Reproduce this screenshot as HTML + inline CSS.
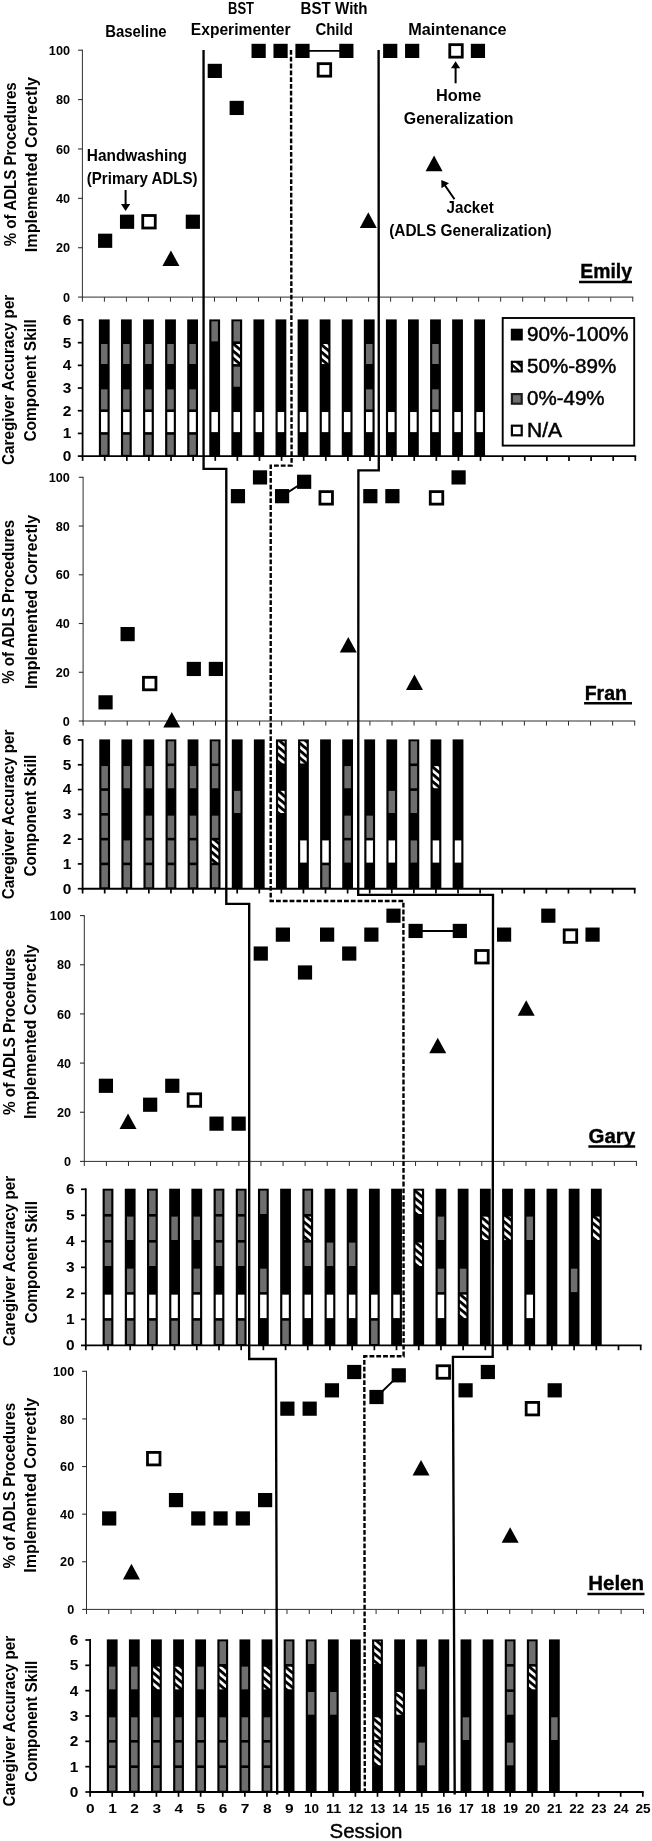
<!DOCTYPE html>
<html><head><meta charset="utf-8"><title>Figure</title>
<style>html,body{margin:0;padding:0;background:#fff}svg{display:block}text{font-family:"Liberation Sans", sans-serif;fill:#000}</style>
</head><body>
<svg width="652" height="1841" viewBox="0 0 652 1841">
<defs>
<pattern id="hatch" width="5.6" height="5.6" patternUnits="userSpaceOnUse" patternTransform="rotate(40)"><rect width="5.6" height="5.6" fill="#fff"/><rect width="5.6" height="2.9" fill="#000"/></pattern>
<pattern id="hatch2" width="5.2" height="5.2" patternUnits="userSpaceOnUse" patternTransform="rotate(42)"><rect width="5.2" height="5.2" fill="#fff"/><rect width="5.2" height="2.4" fill="#000"/></pattern>
<filter id="soft" x="0" y="0" width="100%" height="100%" filterUnits="userSpaceOnUse"><feGaussianBlur stdDeviation="0.45"/></filter>
</defs>
<g filter="url(#soft)">
<rect width="652" height="1841" fill="#fff"/>
<rect x="98.88" y="319.40" width="10.80" height="136.70" fill="#000"/>
<rect x="101.03" y="434.72" width="6.50" height="20.08" fill="#6e6e6e"/>
<rect x="101.03" y="412.03" width="6.50" height="20.08" fill="#fff"/>
<rect x="101.03" y="389.35" width="6.50" height="20.08" fill="#6e6e6e"/>
<rect x="101.03" y="343.98" width="6.50" height="20.08" fill="#6e6e6e"/>
<rect x="120.96" y="319.40" width="10.80" height="136.70" fill="#000"/>
<rect x="123.11" y="434.72" width="6.50" height="20.08" fill="#6e6e6e"/>
<rect x="123.11" y="412.03" width="6.50" height="20.08" fill="#fff"/>
<rect x="123.11" y="389.35" width="6.50" height="20.08" fill="#6e6e6e"/>
<rect x="123.11" y="343.98" width="6.50" height="20.08" fill="#6e6e6e"/>
<rect x="143.04" y="319.40" width="10.80" height="136.70" fill="#000"/>
<rect x="145.19" y="434.72" width="6.50" height="20.08" fill="#6e6e6e"/>
<rect x="145.19" y="412.03" width="6.50" height="20.08" fill="#fff"/>
<rect x="145.19" y="389.35" width="6.50" height="20.08" fill="#6e6e6e"/>
<rect x="145.19" y="343.98" width="6.50" height="20.08" fill="#6e6e6e"/>
<rect x="165.12" y="319.40" width="10.80" height="136.70" fill="#000"/>
<rect x="167.27" y="434.72" width="6.50" height="20.08" fill="#6e6e6e"/>
<rect x="167.27" y="412.03" width="6.50" height="20.08" fill="#fff"/>
<rect x="167.27" y="389.35" width="6.50" height="20.08" fill="#6e6e6e"/>
<rect x="167.27" y="343.98" width="6.50" height="20.08" fill="#6e6e6e"/>
<rect x="187.20" y="319.40" width="10.80" height="136.70" fill="#000"/>
<rect x="189.35" y="434.72" width="6.50" height="20.08" fill="#6e6e6e"/>
<rect x="189.35" y="412.03" width="6.50" height="20.08" fill="#fff"/>
<rect x="189.35" y="389.35" width="6.50" height="20.08" fill="#6e6e6e"/>
<rect x="189.35" y="343.98" width="6.50" height="20.08" fill="#6e6e6e"/>
<rect x="209.28" y="319.40" width="10.80" height="136.70" fill="#000"/>
<rect x="211.43" y="412.03" width="6.50" height="20.08" fill="#fff"/>
<rect x="211.43" y="321.30" width="6.50" height="20.08" fill="#6e6e6e"/>
<rect x="231.36" y="319.40" width="10.80" height="136.70" fill="#000"/>
<rect x="233.51" y="412.03" width="6.50" height="20.08" fill="#fff"/>
<rect x="233.51" y="366.67" width="6.50" height="20.08" fill="#6e6e6e"/>
<rect x="233.51" y="343.98" width="6.50" height="20.08" fill="url(#hatch)"/>
<rect x="233.51" y="321.30" width="6.50" height="20.08" fill="#6e6e6e"/>
<rect x="253.44" y="319.40" width="10.80" height="136.70" fill="#000"/>
<rect x="255.59" y="412.03" width="6.50" height="20.08" fill="#fff"/>
<rect x="275.52" y="319.40" width="10.80" height="136.70" fill="#000"/>
<rect x="277.67" y="412.03" width="6.50" height="20.08" fill="#fff"/>
<rect x="297.60" y="319.40" width="10.80" height="136.70" fill="#000"/>
<rect x="299.75" y="412.03" width="6.50" height="20.08" fill="#fff"/>
<rect x="319.68" y="319.40" width="10.80" height="136.70" fill="#000"/>
<rect x="321.83" y="412.03" width="6.50" height="20.08" fill="#fff"/>
<rect x="321.83" y="343.98" width="6.50" height="20.08" fill="url(#hatch)"/>
<rect x="341.76" y="319.40" width="10.80" height="136.70" fill="#000"/>
<rect x="343.91" y="412.03" width="6.50" height="20.08" fill="#fff"/>
<rect x="363.84" y="319.40" width="10.80" height="136.70" fill="#000"/>
<rect x="365.99" y="412.03" width="6.50" height="20.08" fill="#fff"/>
<rect x="365.99" y="389.35" width="6.50" height="20.08" fill="#6e6e6e"/>
<rect x="365.99" y="343.98" width="6.50" height="20.08" fill="#6e6e6e"/>
<rect x="385.92" y="319.40" width="10.80" height="136.70" fill="#000"/>
<rect x="388.07" y="412.03" width="6.50" height="20.08" fill="#fff"/>
<rect x="408.00" y="319.40" width="10.80" height="136.70" fill="#000"/>
<rect x="410.15" y="412.03" width="6.50" height="20.08" fill="#fff"/>
<rect x="430.08" y="319.40" width="10.80" height="136.70" fill="#000"/>
<rect x="432.23" y="412.03" width="6.50" height="20.08" fill="#fff"/>
<rect x="432.23" y="389.35" width="6.50" height="20.08" fill="#6e6e6e"/>
<rect x="432.23" y="343.98" width="6.50" height="20.08" fill="#6e6e6e"/>
<rect x="452.16" y="319.40" width="10.80" height="136.70" fill="#000"/>
<rect x="454.31" y="412.03" width="6.50" height="20.08" fill="#fff"/>
<rect x="474.24" y="319.40" width="10.80" height="136.70" fill="#000"/>
<rect x="476.39" y="412.03" width="6.50" height="20.08" fill="#fff"/>
<line x1="82.60" y1="319.10" x2="82.60" y2="457.00" stroke="#000" stroke-width="1.8" />
<line x1="81.70" y1="456.10" x2="636.20" y2="456.10" stroke="#000" stroke-width="1.9" />
<line x1="77.80" y1="456.10" x2="82.60" y2="456.10" stroke="#000" stroke-width="1.7" />
<text x="71.40" y="461.00" font-size="13.8" font-weight="bold" text-anchor="end" textLength="8.60" lengthAdjust="spacingAndGlyphs" >0</text>
<line x1="77.80" y1="433.42" x2="82.60" y2="433.42" stroke="#000" stroke-width="1.7" />
<text x="71.40" y="438.32" font-size="13.8" font-weight="bold" text-anchor="end" textLength="8.60" lengthAdjust="spacingAndGlyphs" >1</text>
<line x1="77.80" y1="410.73" x2="82.60" y2="410.73" stroke="#000" stroke-width="1.7" />
<text x="71.40" y="415.63" font-size="13.8" font-weight="bold" text-anchor="end" textLength="8.60" lengthAdjust="spacingAndGlyphs" >2</text>
<line x1="77.80" y1="388.05" x2="82.60" y2="388.05" stroke="#000" stroke-width="1.7" />
<text x="71.40" y="392.95" font-size="13.8" font-weight="bold" text-anchor="end" textLength="8.60" lengthAdjust="spacingAndGlyphs" >3</text>
<line x1="77.80" y1="365.37" x2="82.60" y2="365.37" stroke="#000" stroke-width="1.7" />
<text x="71.40" y="370.27" font-size="13.8" font-weight="bold" text-anchor="end" textLength="8.60" lengthAdjust="spacingAndGlyphs" >4</text>
<line x1="77.80" y1="342.68" x2="82.60" y2="342.68" stroke="#000" stroke-width="1.7" />
<text x="71.40" y="347.58" font-size="13.8" font-weight="bold" text-anchor="end" textLength="8.60" lengthAdjust="spacingAndGlyphs" >5</text>
<line x1="77.80" y1="320.00" x2="82.60" y2="320.00" stroke="#000" stroke-width="1.7" />
<text x="71.40" y="324.90" font-size="13.8" font-weight="bold" text-anchor="end" textLength="8.60" lengthAdjust="spacingAndGlyphs" >6</text>
<line x1="82.60" y1="456.10" x2="82.60" y2="460.90" stroke="#000" stroke-width="1.7" />
<line x1="104.71" y1="456.10" x2="104.71" y2="460.90" stroke="#000" stroke-width="1.7" />
<line x1="126.82" y1="456.10" x2="126.82" y2="460.90" stroke="#000" stroke-width="1.7" />
<line x1="148.92" y1="456.10" x2="148.92" y2="460.90" stroke="#000" stroke-width="1.7" />
<line x1="171.03" y1="456.10" x2="171.03" y2="460.90" stroke="#000" stroke-width="1.7" />
<line x1="193.14" y1="456.10" x2="193.14" y2="460.90" stroke="#000" stroke-width="1.7" />
<line x1="215.25" y1="456.10" x2="215.25" y2="460.90" stroke="#000" stroke-width="1.7" />
<line x1="237.36" y1="456.10" x2="237.36" y2="460.90" stroke="#000" stroke-width="1.7" />
<line x1="259.46" y1="456.10" x2="259.46" y2="460.90" stroke="#000" stroke-width="1.7" />
<line x1="281.57" y1="456.10" x2="281.57" y2="460.90" stroke="#000" stroke-width="1.7" />
<line x1="303.68" y1="456.10" x2="303.68" y2="460.90" stroke="#000" stroke-width="1.7" />
<line x1="325.79" y1="456.10" x2="325.79" y2="460.90" stroke="#000" stroke-width="1.7" />
<line x1="347.90" y1="456.10" x2="347.90" y2="460.90" stroke="#000" stroke-width="1.7" />
<line x1="370.00" y1="456.10" x2="370.00" y2="460.90" stroke="#000" stroke-width="1.7" />
<line x1="392.11" y1="456.10" x2="392.11" y2="460.90" stroke="#000" stroke-width="1.7" />
<line x1="414.22" y1="456.10" x2="414.22" y2="460.90" stroke="#000" stroke-width="1.7" />
<line x1="436.33" y1="456.10" x2="436.33" y2="460.90" stroke="#000" stroke-width="1.7" />
<line x1="458.44" y1="456.10" x2="458.44" y2="460.90" stroke="#000" stroke-width="1.7" />
<line x1="480.54" y1="456.10" x2="480.54" y2="460.90" stroke="#000" stroke-width="1.7" />
<line x1="502.65" y1="456.10" x2="502.65" y2="460.90" stroke="#000" stroke-width="1.7" />
<line x1="524.76" y1="456.10" x2="524.76" y2="460.90" stroke="#000" stroke-width="1.7" />
<line x1="546.87" y1="456.10" x2="546.87" y2="460.90" stroke="#000" stroke-width="1.7" />
<line x1="568.98" y1="456.10" x2="568.98" y2="460.90" stroke="#000" stroke-width="1.7" />
<line x1="591.08" y1="456.10" x2="591.08" y2="460.90" stroke="#000" stroke-width="1.7" />
<line x1="613.19" y1="456.10" x2="613.19" y2="460.90" stroke="#000" stroke-width="1.7" />
<line x1="635.30" y1="456.10" x2="635.30" y2="460.90" stroke="#000" stroke-width="1.7" />
<rect x="99.28" y="739.40" width="10.80" height="149.30" fill="#000"/>
<rect x="101.43" y="865.22" width="6.50" height="22.18" fill="#6e6e6e"/>
<rect x="101.43" y="840.43" width="6.50" height="22.18" fill="#6e6e6e"/>
<rect x="101.43" y="815.65" width="6.50" height="22.18" fill="#6e6e6e"/>
<rect x="101.43" y="790.87" width="6.50" height="22.18" fill="#6e6e6e"/>
<rect x="101.43" y="766.08" width="6.50" height="22.18" fill="#6e6e6e"/>
<rect x="121.37" y="739.40" width="10.80" height="149.30" fill="#000"/>
<rect x="123.52" y="865.22" width="6.50" height="22.18" fill="#6e6e6e"/>
<rect x="123.52" y="840.43" width="6.50" height="22.18" fill="#6e6e6e"/>
<rect x="123.52" y="766.08" width="6.50" height="22.18" fill="#6e6e6e"/>
<rect x="143.45" y="739.40" width="10.80" height="149.30" fill="#000"/>
<rect x="145.60" y="865.22" width="6.50" height="22.18" fill="#6e6e6e"/>
<rect x="145.60" y="840.43" width="6.50" height="22.18" fill="#6e6e6e"/>
<rect x="145.60" y="815.65" width="6.50" height="22.18" fill="#6e6e6e"/>
<rect x="145.60" y="766.08" width="6.50" height="22.18" fill="#6e6e6e"/>
<rect x="165.54" y="739.40" width="10.80" height="149.30" fill="#000"/>
<rect x="167.69" y="865.22" width="6.50" height="22.18" fill="#6e6e6e"/>
<rect x="167.69" y="840.43" width="6.50" height="22.18" fill="#6e6e6e"/>
<rect x="167.69" y="815.65" width="6.50" height="22.18" fill="#6e6e6e"/>
<rect x="167.69" y="766.08" width="6.50" height="22.18" fill="#6e6e6e"/>
<rect x="167.69" y="741.30" width="6.50" height="22.18" fill="#6e6e6e"/>
<rect x="187.62" y="739.40" width="10.80" height="149.30" fill="#000"/>
<rect x="189.77" y="865.22" width="6.50" height="22.18" fill="#6e6e6e"/>
<rect x="189.77" y="840.43" width="6.50" height="22.18" fill="#6e6e6e"/>
<rect x="189.77" y="815.65" width="6.50" height="22.18" fill="#6e6e6e"/>
<rect x="189.77" y="766.08" width="6.50" height="22.18" fill="#6e6e6e"/>
<rect x="209.70" y="739.40" width="10.80" height="149.30" fill="#000"/>
<rect x="211.85" y="865.22" width="6.50" height="22.18" fill="#6e6e6e"/>
<rect x="211.85" y="840.43" width="6.50" height="22.18" fill="url(#hatch)"/>
<rect x="211.85" y="815.65" width="6.50" height="22.18" fill="#6e6e6e"/>
<rect x="211.85" y="766.08" width="6.50" height="22.18" fill="#6e6e6e"/>
<rect x="211.85" y="741.30" width="6.50" height="22.18" fill="#6e6e6e"/>
<rect x="231.79" y="739.40" width="10.80" height="149.30" fill="#000"/>
<rect x="233.94" y="790.87" width="6.50" height="22.18" fill="#6e6e6e"/>
<rect x="253.87" y="739.40" width="10.80" height="149.30" fill="#000"/>
<rect x="275.96" y="739.40" width="10.80" height="149.30" fill="#000"/>
<rect x="278.11" y="790.87" width="6.50" height="22.18" fill="url(#hatch)"/>
<rect x="278.11" y="741.30" width="6.50" height="22.18" fill="url(#hatch)"/>
<rect x="298.04" y="739.40" width="10.80" height="149.30" fill="#000"/>
<rect x="300.19" y="840.43" width="6.50" height="22.18" fill="#fff"/>
<rect x="300.19" y="741.30" width="6.50" height="22.18" fill="url(#hatch)"/>
<rect x="320.12" y="739.40" width="10.80" height="149.30" fill="#000"/>
<rect x="322.27" y="865.22" width="6.50" height="22.18" fill="#6e6e6e"/>
<rect x="322.27" y="840.43" width="6.50" height="22.18" fill="#fff"/>
<rect x="342.21" y="739.40" width="10.80" height="149.30" fill="#000"/>
<rect x="344.36" y="840.43" width="6.50" height="22.18" fill="#6e6e6e"/>
<rect x="344.36" y="815.65" width="6.50" height="22.18" fill="#6e6e6e"/>
<rect x="344.36" y="766.08" width="6.50" height="22.18" fill="#6e6e6e"/>
<rect x="364.29" y="739.40" width="10.80" height="149.30" fill="#000"/>
<rect x="366.44" y="840.43" width="6.50" height="22.18" fill="#fff"/>
<rect x="366.44" y="815.65" width="6.50" height="22.18" fill="#6e6e6e"/>
<rect x="386.38" y="739.40" width="10.80" height="149.30" fill="#000"/>
<rect x="388.53" y="840.43" width="6.50" height="22.18" fill="#fff"/>
<rect x="388.53" y="790.87" width="6.50" height="22.18" fill="#6e6e6e"/>
<rect x="408.46" y="739.40" width="10.80" height="149.30" fill="#000"/>
<rect x="410.61" y="840.43" width="6.50" height="22.18" fill="#6e6e6e"/>
<rect x="410.61" y="790.87" width="6.50" height="22.18" fill="#6e6e6e"/>
<rect x="410.61" y="766.08" width="6.50" height="22.18" fill="#6e6e6e"/>
<rect x="410.61" y="741.30" width="6.50" height="22.18" fill="#6e6e6e"/>
<rect x="430.54" y="739.40" width="10.80" height="149.30" fill="#000"/>
<rect x="432.69" y="840.43" width="6.50" height="22.18" fill="#fff"/>
<rect x="432.69" y="766.08" width="6.50" height="22.18" fill="url(#hatch)"/>
<rect x="452.63" y="739.40" width="10.80" height="149.30" fill="#000"/>
<rect x="454.78" y="840.43" width="6.50" height="22.18" fill="#fff"/>
<line x1="82.60" y1="739.10" x2="82.60" y2="889.60" stroke="#000" stroke-width="1.8" />
<line x1="81.70" y1="888.70" x2="635.60" y2="888.70" stroke="#000" stroke-width="1.9" />
<line x1="77.80" y1="888.70" x2="82.60" y2="888.70" stroke="#000" stroke-width="1.7" />
<text x="71.40" y="893.60" font-size="13.8" font-weight="bold" text-anchor="end" textLength="8.60" lengthAdjust="spacingAndGlyphs" >0</text>
<line x1="77.80" y1="863.92" x2="82.60" y2="863.92" stroke="#000" stroke-width="1.7" />
<text x="71.40" y="868.82" font-size="13.8" font-weight="bold" text-anchor="end" textLength="8.60" lengthAdjust="spacingAndGlyphs" >1</text>
<line x1="77.80" y1="839.13" x2="82.60" y2="839.13" stroke="#000" stroke-width="1.7" />
<text x="71.40" y="844.03" font-size="13.8" font-weight="bold" text-anchor="end" textLength="8.60" lengthAdjust="spacingAndGlyphs" >2</text>
<line x1="77.80" y1="814.35" x2="82.60" y2="814.35" stroke="#000" stroke-width="1.7" />
<text x="71.40" y="819.25" font-size="13.8" font-weight="bold" text-anchor="end" textLength="8.60" lengthAdjust="spacingAndGlyphs" >3</text>
<line x1="77.80" y1="789.57" x2="82.60" y2="789.57" stroke="#000" stroke-width="1.7" />
<text x="71.40" y="794.47" font-size="13.8" font-weight="bold" text-anchor="end" textLength="8.60" lengthAdjust="spacingAndGlyphs" >4</text>
<line x1="77.80" y1="764.78" x2="82.60" y2="764.78" stroke="#000" stroke-width="1.7" />
<text x="71.40" y="769.68" font-size="13.8" font-weight="bold" text-anchor="end" textLength="8.60" lengthAdjust="spacingAndGlyphs" >5</text>
<line x1="77.80" y1="740.00" x2="82.60" y2="740.00" stroke="#000" stroke-width="1.7" />
<text x="71.40" y="744.90" font-size="13.8" font-weight="bold" text-anchor="end" textLength="8.60" lengthAdjust="spacingAndGlyphs" >6</text>
<line x1="82.60" y1="888.70" x2="82.60" y2="893.50" stroke="#000" stroke-width="1.7" />
<line x1="104.68" y1="888.70" x2="104.68" y2="893.50" stroke="#000" stroke-width="1.7" />
<line x1="126.77" y1="888.70" x2="126.77" y2="893.50" stroke="#000" stroke-width="1.7" />
<line x1="148.85" y1="888.70" x2="148.85" y2="893.50" stroke="#000" stroke-width="1.7" />
<line x1="170.94" y1="888.70" x2="170.94" y2="893.50" stroke="#000" stroke-width="1.7" />
<line x1="193.02" y1="888.70" x2="193.02" y2="893.50" stroke="#000" stroke-width="1.7" />
<line x1="215.10" y1="888.70" x2="215.10" y2="893.50" stroke="#000" stroke-width="1.7" />
<line x1="237.19" y1="888.70" x2="237.19" y2="893.50" stroke="#000" stroke-width="1.7" />
<line x1="259.27" y1="888.70" x2="259.27" y2="893.50" stroke="#000" stroke-width="1.7" />
<line x1="281.36" y1="888.70" x2="281.36" y2="893.50" stroke="#000" stroke-width="1.7" />
<line x1="303.44" y1="888.70" x2="303.44" y2="893.50" stroke="#000" stroke-width="1.7" />
<line x1="325.52" y1="888.70" x2="325.52" y2="893.50" stroke="#000" stroke-width="1.7" />
<line x1="347.61" y1="888.70" x2="347.61" y2="893.50" stroke="#000" stroke-width="1.7" />
<line x1="369.69" y1="888.70" x2="369.69" y2="893.50" stroke="#000" stroke-width="1.7" />
<line x1="391.78" y1="888.70" x2="391.78" y2="893.50" stroke="#000" stroke-width="1.7" />
<line x1="413.86" y1="888.70" x2="413.86" y2="893.50" stroke="#000" stroke-width="1.7" />
<line x1="435.94" y1="888.70" x2="435.94" y2="893.50" stroke="#000" stroke-width="1.7" />
<line x1="458.03" y1="888.70" x2="458.03" y2="893.50" stroke="#000" stroke-width="1.7" />
<line x1="480.11" y1="888.70" x2="480.11" y2="893.50" stroke="#000" stroke-width="1.7" />
<line x1="502.20" y1="888.70" x2="502.20" y2="893.50" stroke="#000" stroke-width="1.7" />
<line x1="524.28" y1="888.70" x2="524.28" y2="893.50" stroke="#000" stroke-width="1.7" />
<line x1="546.36" y1="888.70" x2="546.36" y2="893.50" stroke="#000" stroke-width="1.7" />
<line x1="568.45" y1="888.70" x2="568.45" y2="893.50" stroke="#000" stroke-width="1.7" />
<line x1="590.53" y1="888.70" x2="590.53" y2="893.50" stroke="#000" stroke-width="1.7" />
<line x1="612.62" y1="888.70" x2="612.62" y2="893.50" stroke="#000" stroke-width="1.7" />
<line x1="634.70" y1="888.70" x2="634.70" y2="893.50" stroke="#000" stroke-width="1.7" />
<rect x="102.60" y="1188.70" width="10.80" height="156.70" fill="#000"/>
<rect x="104.75" y="1320.68" width="6.50" height="23.42" fill="#6e6e6e"/>
<rect x="104.75" y="1294.67" width="6.50" height="23.42" fill="#fff"/>
<rect x="104.75" y="1242.63" width="6.50" height="23.42" fill="#6e6e6e"/>
<rect x="104.75" y="1216.62" width="6.50" height="23.42" fill="#6e6e6e"/>
<rect x="104.75" y="1190.60" width="6.50" height="23.42" fill="#6e6e6e"/>
<rect x="124.79" y="1188.70" width="10.80" height="156.70" fill="#000"/>
<rect x="126.94" y="1320.68" width="6.50" height="23.42" fill="#6e6e6e"/>
<rect x="126.94" y="1294.67" width="6.50" height="23.42" fill="#fff"/>
<rect x="126.94" y="1268.65" width="6.50" height="23.42" fill="#6e6e6e"/>
<rect x="126.94" y="1216.62" width="6.50" height="23.42" fill="#6e6e6e"/>
<rect x="146.99" y="1188.70" width="10.80" height="156.70" fill="#000"/>
<rect x="149.14" y="1320.68" width="6.50" height="23.42" fill="#6e6e6e"/>
<rect x="149.14" y="1294.67" width="6.50" height="23.42" fill="#fff"/>
<rect x="149.14" y="1242.63" width="6.50" height="23.42" fill="#6e6e6e"/>
<rect x="149.14" y="1216.62" width="6.50" height="23.42" fill="#6e6e6e"/>
<rect x="149.14" y="1190.60" width="6.50" height="23.42" fill="#6e6e6e"/>
<rect x="169.18" y="1188.70" width="10.80" height="156.70" fill="#000"/>
<rect x="171.33" y="1320.68" width="6.50" height="23.42" fill="#6e6e6e"/>
<rect x="171.33" y="1294.67" width="6.50" height="23.42" fill="#fff"/>
<rect x="171.33" y="1216.62" width="6.50" height="23.42" fill="#6e6e6e"/>
<rect x="191.38" y="1188.70" width="10.80" height="156.70" fill="#000"/>
<rect x="193.53" y="1320.68" width="6.50" height="23.42" fill="#6e6e6e"/>
<rect x="193.53" y="1294.67" width="6.50" height="23.42" fill="#fff"/>
<rect x="193.53" y="1268.65" width="6.50" height="23.42" fill="#6e6e6e"/>
<rect x="193.53" y="1216.62" width="6.50" height="23.42" fill="#6e6e6e"/>
<rect x="213.58" y="1188.70" width="10.80" height="156.70" fill="#000"/>
<rect x="215.73" y="1320.68" width="6.50" height="23.42" fill="#6e6e6e"/>
<rect x="215.73" y="1294.67" width="6.50" height="23.42" fill="#fff"/>
<rect x="215.73" y="1242.63" width="6.50" height="23.42" fill="#6e6e6e"/>
<rect x="215.73" y="1216.62" width="6.50" height="23.42" fill="#6e6e6e"/>
<rect x="215.73" y="1190.60" width="6.50" height="23.42" fill="#6e6e6e"/>
<rect x="235.77" y="1188.70" width="10.80" height="156.70" fill="#000"/>
<rect x="237.92" y="1320.68" width="6.50" height="23.42" fill="#6e6e6e"/>
<rect x="237.92" y="1294.67" width="6.50" height="23.42" fill="#fff"/>
<rect x="237.92" y="1242.63" width="6.50" height="23.42" fill="#6e6e6e"/>
<rect x="237.92" y="1216.62" width="6.50" height="23.42" fill="#6e6e6e"/>
<rect x="237.92" y="1190.60" width="6.50" height="23.42" fill="#6e6e6e"/>
<rect x="257.97" y="1188.70" width="10.80" height="156.70" fill="#000"/>
<rect x="260.12" y="1294.67" width="6.50" height="23.42" fill="#fff"/>
<rect x="260.12" y="1268.65" width="6.50" height="23.42" fill="#6e6e6e"/>
<rect x="260.12" y="1190.60" width="6.50" height="23.42" fill="#6e6e6e"/>
<rect x="280.16" y="1188.70" width="10.80" height="156.70" fill="#000"/>
<rect x="282.31" y="1320.68" width="6.50" height="23.42" fill="#6e6e6e"/>
<rect x="282.31" y="1294.67" width="6.50" height="23.42" fill="#fff"/>
<rect x="302.36" y="1188.70" width="10.80" height="156.70" fill="#000"/>
<rect x="304.51" y="1294.67" width="6.50" height="23.42" fill="#fff"/>
<rect x="304.51" y="1242.63" width="6.50" height="23.42" fill="#6e6e6e"/>
<rect x="304.51" y="1216.62" width="6.50" height="23.42" fill="url(#hatch)"/>
<rect x="304.51" y="1190.60" width="6.50" height="23.42" fill="#6e6e6e"/>
<rect x="324.56" y="1188.70" width="10.80" height="156.70" fill="#000"/>
<rect x="326.71" y="1294.67" width="6.50" height="23.42" fill="#fff"/>
<rect x="326.71" y="1242.63" width="6.50" height="23.42" fill="#6e6e6e"/>
<rect x="346.75" y="1188.70" width="10.80" height="156.70" fill="#000"/>
<rect x="348.90" y="1294.67" width="6.50" height="23.42" fill="#fff"/>
<rect x="348.90" y="1242.63" width="6.50" height="23.42" fill="#6e6e6e"/>
<rect x="368.95" y="1188.70" width="10.80" height="156.70" fill="#000"/>
<rect x="371.10" y="1320.68" width="6.50" height="23.42" fill="#6e6e6e"/>
<rect x="371.10" y="1294.67" width="6.50" height="23.42" fill="#fff"/>
<rect x="391.14" y="1188.70" width="10.80" height="156.70" fill="#000"/>
<rect x="393.29" y="1294.67" width="6.50" height="23.42" fill="#fff"/>
<rect x="413.34" y="1188.70" width="10.80" height="156.70" fill="#000"/>
<rect x="415.49" y="1242.63" width="6.50" height="23.42" fill="url(#hatch)"/>
<rect x="415.49" y="1190.60" width="6.50" height="23.42" fill="url(#hatch)"/>
<rect x="435.54" y="1188.70" width="10.80" height="156.70" fill="#000"/>
<rect x="437.69" y="1294.67" width="6.50" height="23.42" fill="#fff"/>
<rect x="437.69" y="1268.65" width="6.50" height="23.42" fill="#6e6e6e"/>
<rect x="437.69" y="1216.62" width="6.50" height="23.42" fill="#6e6e6e"/>
<rect x="457.73" y="1188.70" width="10.80" height="156.70" fill="#000"/>
<rect x="459.88" y="1294.67" width="6.50" height="23.42" fill="url(#hatch)"/>
<rect x="459.88" y="1268.65" width="6.50" height="23.42" fill="#6e6e6e"/>
<rect x="479.93" y="1188.70" width="10.80" height="156.70" fill="#000"/>
<rect x="482.08" y="1216.62" width="6.50" height="23.42" fill="url(#hatch)"/>
<rect x="502.12" y="1188.70" width="10.80" height="156.70" fill="#000"/>
<rect x="504.27" y="1216.62" width="6.50" height="23.42" fill="url(#hatch)"/>
<rect x="524.32" y="1188.70" width="10.80" height="156.70" fill="#000"/>
<rect x="526.47" y="1294.67" width="6.50" height="23.42" fill="#fff"/>
<rect x="526.47" y="1216.62" width="6.50" height="23.42" fill="#6e6e6e"/>
<rect x="546.52" y="1188.70" width="10.80" height="156.70" fill="#000"/>
<rect x="568.71" y="1188.70" width="10.80" height="156.70" fill="#000"/>
<rect x="570.86" y="1268.65" width="6.50" height="23.42" fill="#6e6e6e"/>
<rect x="590.91" y="1188.70" width="10.80" height="156.70" fill="#000"/>
<rect x="593.06" y="1216.62" width="6.50" height="23.42" fill="url(#hatch)"/>
<line x1="85.80" y1="1188.40" x2="85.80" y2="1346.30" stroke="#000" stroke-width="1.8" />
<line x1="84.90" y1="1345.40" x2="641.60" y2="1345.40" stroke="#000" stroke-width="1.9" />
<line x1="81.00" y1="1345.40" x2="85.80" y2="1345.40" stroke="#000" stroke-width="1.7" />
<text x="74.50" y="1350.30" font-size="13.8" font-weight="bold" text-anchor="end" textLength="8.60" lengthAdjust="spacingAndGlyphs" >0</text>
<line x1="81.00" y1="1319.38" x2="85.80" y2="1319.38" stroke="#000" stroke-width="1.7" />
<text x="74.50" y="1324.28" font-size="13.8" font-weight="bold" text-anchor="end" textLength="8.60" lengthAdjust="spacingAndGlyphs" >1</text>
<line x1="81.00" y1="1293.37" x2="85.80" y2="1293.37" stroke="#000" stroke-width="1.7" />
<text x="74.50" y="1298.27" font-size="13.8" font-weight="bold" text-anchor="end" textLength="8.60" lengthAdjust="spacingAndGlyphs" >2</text>
<line x1="81.00" y1="1267.35" x2="85.80" y2="1267.35" stroke="#000" stroke-width="1.7" />
<text x="74.50" y="1272.25" font-size="13.8" font-weight="bold" text-anchor="end" textLength="8.60" lengthAdjust="spacingAndGlyphs" >3</text>
<line x1="81.00" y1="1241.33" x2="85.80" y2="1241.33" stroke="#000" stroke-width="1.7" />
<text x="74.50" y="1246.23" font-size="13.8" font-weight="bold" text-anchor="end" textLength="8.60" lengthAdjust="spacingAndGlyphs" >4</text>
<line x1="81.00" y1="1215.32" x2="85.80" y2="1215.32" stroke="#000" stroke-width="1.7" />
<text x="74.50" y="1220.22" font-size="13.8" font-weight="bold" text-anchor="end" textLength="8.60" lengthAdjust="spacingAndGlyphs" >5</text>
<line x1="81.00" y1="1189.30" x2="85.80" y2="1189.30" stroke="#000" stroke-width="1.7" />
<text x="74.50" y="1194.20" font-size="13.8" font-weight="bold" text-anchor="end" textLength="8.60" lengthAdjust="spacingAndGlyphs" >6</text>
<line x1="85.80" y1="1345.40" x2="85.80" y2="1350.20" stroke="#000" stroke-width="1.7" />
<line x1="108.00" y1="1345.40" x2="108.00" y2="1350.20" stroke="#000" stroke-width="1.7" />
<line x1="130.19" y1="1345.40" x2="130.19" y2="1350.20" stroke="#000" stroke-width="1.7" />
<line x1="152.39" y1="1345.40" x2="152.39" y2="1350.20" stroke="#000" stroke-width="1.7" />
<line x1="174.58" y1="1345.40" x2="174.58" y2="1350.20" stroke="#000" stroke-width="1.7" />
<line x1="196.78" y1="1345.40" x2="196.78" y2="1350.20" stroke="#000" stroke-width="1.7" />
<line x1="218.98" y1="1345.40" x2="218.98" y2="1350.20" stroke="#000" stroke-width="1.7" />
<line x1="241.17" y1="1345.40" x2="241.17" y2="1350.20" stroke="#000" stroke-width="1.7" />
<line x1="263.37" y1="1345.40" x2="263.37" y2="1350.20" stroke="#000" stroke-width="1.7" />
<line x1="285.56" y1="1345.40" x2="285.56" y2="1350.20" stroke="#000" stroke-width="1.7" />
<line x1="307.76" y1="1345.40" x2="307.76" y2="1350.20" stroke="#000" stroke-width="1.7" />
<line x1="329.96" y1="1345.40" x2="329.96" y2="1350.20" stroke="#000" stroke-width="1.7" />
<line x1="352.15" y1="1345.40" x2="352.15" y2="1350.20" stroke="#000" stroke-width="1.7" />
<line x1="374.35" y1="1345.40" x2="374.35" y2="1350.20" stroke="#000" stroke-width="1.7" />
<line x1="396.54" y1="1345.40" x2="396.54" y2="1350.20" stroke="#000" stroke-width="1.7" />
<line x1="418.74" y1="1345.40" x2="418.74" y2="1350.20" stroke="#000" stroke-width="1.7" />
<line x1="440.94" y1="1345.40" x2="440.94" y2="1350.20" stroke="#000" stroke-width="1.7" />
<line x1="463.13" y1="1345.40" x2="463.13" y2="1350.20" stroke="#000" stroke-width="1.7" />
<line x1="485.33" y1="1345.40" x2="485.33" y2="1350.20" stroke="#000" stroke-width="1.7" />
<line x1="507.52" y1="1345.40" x2="507.52" y2="1350.20" stroke="#000" stroke-width="1.7" />
<line x1="529.72" y1="1345.40" x2="529.72" y2="1350.20" stroke="#000" stroke-width="1.7" />
<line x1="551.92" y1="1345.40" x2="551.92" y2="1350.20" stroke="#000" stroke-width="1.7" />
<line x1="574.11" y1="1345.40" x2="574.11" y2="1350.20" stroke="#000" stroke-width="1.7" />
<line x1="596.31" y1="1345.40" x2="596.31" y2="1350.20" stroke="#000" stroke-width="1.7" />
<line x1="618.50" y1="1345.40" x2="618.50" y2="1350.20" stroke="#000" stroke-width="1.7" />
<line x1="640.70" y1="1345.40" x2="640.70" y2="1350.20" stroke="#000" stroke-width="1.7" />
<rect x="106.81" y="1639.40" width="10.80" height="152.60" fill="#000"/>
<rect x="108.96" y="1767.97" width="6.50" height="22.73" fill="#6e6e6e"/>
<rect x="108.96" y="1742.63" width="6.50" height="22.73" fill="#6e6e6e"/>
<rect x="108.96" y="1717.30" width="6.50" height="22.73" fill="#6e6e6e"/>
<rect x="108.96" y="1666.63" width="6.50" height="22.73" fill="#6e6e6e"/>
<rect x="128.92" y="1639.40" width="10.80" height="152.60" fill="#000"/>
<rect x="131.07" y="1767.97" width="6.50" height="22.73" fill="#6e6e6e"/>
<rect x="131.07" y="1742.63" width="6.50" height="22.73" fill="#6e6e6e"/>
<rect x="131.07" y="1717.30" width="6.50" height="22.73" fill="#6e6e6e"/>
<rect x="131.07" y="1666.63" width="6.50" height="22.73" fill="#6e6e6e"/>
<rect x="151.02" y="1639.40" width="10.80" height="152.60" fill="#000"/>
<rect x="153.17" y="1767.97" width="6.50" height="22.73" fill="#6e6e6e"/>
<rect x="153.17" y="1742.63" width="6.50" height="22.73" fill="#6e6e6e"/>
<rect x="153.17" y="1717.30" width="6.50" height="22.73" fill="#6e6e6e"/>
<rect x="153.17" y="1666.63" width="6.50" height="22.73" fill="url(#hatch)"/>
<rect x="173.13" y="1639.40" width="10.80" height="152.60" fill="#000"/>
<rect x="175.28" y="1767.97" width="6.50" height="22.73" fill="#6e6e6e"/>
<rect x="175.28" y="1742.63" width="6.50" height="22.73" fill="#6e6e6e"/>
<rect x="175.28" y="1717.30" width="6.50" height="22.73" fill="#6e6e6e"/>
<rect x="175.28" y="1666.63" width="6.50" height="22.73" fill="url(#hatch)"/>
<rect x="195.24" y="1639.40" width="10.80" height="152.60" fill="#000"/>
<rect x="197.39" y="1767.97" width="6.50" height="22.73" fill="#6e6e6e"/>
<rect x="197.39" y="1742.63" width="6.50" height="22.73" fill="#6e6e6e"/>
<rect x="197.39" y="1717.30" width="6.50" height="22.73" fill="#6e6e6e"/>
<rect x="197.39" y="1666.63" width="6.50" height="22.73" fill="#6e6e6e"/>
<rect x="217.35" y="1639.40" width="10.80" height="152.60" fill="#000"/>
<rect x="219.50" y="1767.97" width="6.50" height="22.73" fill="#6e6e6e"/>
<rect x="219.50" y="1742.63" width="6.50" height="22.73" fill="#6e6e6e"/>
<rect x="219.50" y="1717.30" width="6.50" height="22.73" fill="#6e6e6e"/>
<rect x="219.50" y="1666.63" width="6.50" height="22.73" fill="url(#hatch)"/>
<rect x="219.50" y="1641.30" width="6.50" height="22.73" fill="#6e6e6e"/>
<rect x="239.46" y="1639.40" width="10.80" height="152.60" fill="#000"/>
<rect x="241.61" y="1767.97" width="6.50" height="22.73" fill="#6e6e6e"/>
<rect x="241.61" y="1742.63" width="6.50" height="22.73" fill="#6e6e6e"/>
<rect x="241.61" y="1717.30" width="6.50" height="22.73" fill="#6e6e6e"/>
<rect x="241.61" y="1666.63" width="6.50" height="22.73" fill="#6e6e6e"/>
<rect x="261.56" y="1639.40" width="10.80" height="152.60" fill="#000"/>
<rect x="263.71" y="1767.97" width="6.50" height="22.73" fill="#6e6e6e"/>
<rect x="263.71" y="1742.63" width="6.50" height="22.73" fill="#6e6e6e"/>
<rect x="263.71" y="1717.30" width="6.50" height="22.73" fill="#6e6e6e"/>
<rect x="263.71" y="1666.63" width="6.50" height="22.73" fill="url(#hatch)"/>
<rect x="283.67" y="1639.40" width="10.80" height="152.60" fill="#000"/>
<rect x="285.82" y="1666.63" width="6.50" height="22.73" fill="url(#hatch)"/>
<rect x="285.82" y="1641.30" width="6.50" height="22.73" fill="#6e6e6e"/>
<rect x="305.78" y="1639.40" width="10.80" height="152.60" fill="#000"/>
<rect x="307.93" y="1691.97" width="6.50" height="22.73" fill="#6e6e6e"/>
<rect x="307.93" y="1641.30" width="6.50" height="22.73" fill="#6e6e6e"/>
<rect x="327.89" y="1639.40" width="10.80" height="152.60" fill="#000"/>
<rect x="330.04" y="1691.97" width="6.50" height="22.73" fill="#6e6e6e"/>
<rect x="350.00" y="1639.40" width="10.80" height="152.60" fill="#000"/>
<rect x="372.10" y="1639.40" width="10.80" height="152.60" fill="#000"/>
<rect x="374.25" y="1742.63" width="6.50" height="22.73" fill="url(#hatch)"/>
<rect x="374.25" y="1717.30" width="6.50" height="22.73" fill="url(#hatch)"/>
<rect x="374.25" y="1641.30" width="6.50" height="22.73" fill="url(#hatch)"/>
<rect x="394.21" y="1639.40" width="10.80" height="152.60" fill="#000"/>
<rect x="396.36" y="1691.97" width="6.50" height="22.73" fill="url(#hatch)"/>
<rect x="416.32" y="1639.40" width="10.80" height="152.60" fill="#000"/>
<rect x="418.47" y="1742.63" width="6.50" height="22.73" fill="#6e6e6e"/>
<rect x="418.47" y="1666.63" width="6.50" height="22.73" fill="#6e6e6e"/>
<rect x="438.43" y="1639.40" width="10.80" height="152.60" fill="#000"/>
<rect x="460.54" y="1639.40" width="10.80" height="152.60" fill="#000"/>
<rect x="462.69" y="1717.30" width="6.50" height="22.73" fill="#6e6e6e"/>
<rect x="482.64" y="1639.40" width="10.80" height="152.60" fill="#000"/>
<rect x="504.75" y="1639.40" width="10.80" height="152.60" fill="#000"/>
<rect x="506.90" y="1742.63" width="6.50" height="22.73" fill="#6e6e6e"/>
<rect x="506.90" y="1691.97" width="6.50" height="22.73" fill="#6e6e6e"/>
<rect x="506.90" y="1666.63" width="6.50" height="22.73" fill="#6e6e6e"/>
<rect x="506.90" y="1641.30" width="6.50" height="22.73" fill="#6e6e6e"/>
<rect x="526.86" y="1639.40" width="10.80" height="152.60" fill="#000"/>
<rect x="529.01" y="1666.63" width="6.50" height="22.73" fill="url(#hatch)"/>
<rect x="529.01" y="1641.30" width="6.50" height="22.73" fill="#6e6e6e"/>
<rect x="548.97" y="1639.40" width="10.80" height="152.60" fill="#000"/>
<rect x="551.12" y="1717.30" width="6.50" height="22.73" fill="#6e6e6e"/>
<line x1="90.10" y1="1639.10" x2="90.10" y2="1792.90" stroke="#000" stroke-width="1.8" />
<line x1="89.20" y1="1792.00" x2="643.70" y2="1792.00" stroke="#000" stroke-width="1.9" />
<line x1="85.30" y1="1792.00" x2="90.10" y2="1792.00" stroke="#000" stroke-width="1.7" />
<text x="78.40" y="1796.90" font-size="13.8" font-weight="bold" text-anchor="end" textLength="8.60" lengthAdjust="spacingAndGlyphs" >0</text>
<line x1="85.30" y1="1766.67" x2="90.10" y2="1766.67" stroke="#000" stroke-width="1.7" />
<text x="78.40" y="1771.57" font-size="13.8" font-weight="bold" text-anchor="end" textLength="8.60" lengthAdjust="spacingAndGlyphs" >1</text>
<line x1="85.30" y1="1741.33" x2="90.10" y2="1741.33" stroke="#000" stroke-width="1.7" />
<text x="78.40" y="1746.23" font-size="13.8" font-weight="bold" text-anchor="end" textLength="8.60" lengthAdjust="spacingAndGlyphs" >2</text>
<line x1="85.30" y1="1716.00" x2="90.10" y2="1716.00" stroke="#000" stroke-width="1.7" />
<text x="78.40" y="1720.90" font-size="13.8" font-weight="bold" text-anchor="end" textLength="8.60" lengthAdjust="spacingAndGlyphs" >3</text>
<line x1="85.30" y1="1690.67" x2="90.10" y2="1690.67" stroke="#000" stroke-width="1.7" />
<text x="78.40" y="1695.57" font-size="13.8" font-weight="bold" text-anchor="end" textLength="8.60" lengthAdjust="spacingAndGlyphs" >4</text>
<line x1="85.30" y1="1665.33" x2="90.10" y2="1665.33" stroke="#000" stroke-width="1.7" />
<text x="78.40" y="1670.23" font-size="13.8" font-weight="bold" text-anchor="end" textLength="8.60" lengthAdjust="spacingAndGlyphs" >5</text>
<line x1="85.30" y1="1640.00" x2="90.10" y2="1640.00" stroke="#000" stroke-width="1.7" />
<text x="78.40" y="1644.90" font-size="13.8" font-weight="bold" text-anchor="end" textLength="8.60" lengthAdjust="spacingAndGlyphs" >6</text>
<line x1="90.10" y1="1792.00" x2="90.10" y2="1796.80" stroke="#000" stroke-width="1.7" />
<text x="90.40" y="1813.30" font-size="13.6" font-weight="bold" text-anchor="middle" textLength="8.60" lengthAdjust="spacingAndGlyphs" >0</text>
<line x1="112.21" y1="1792.00" x2="112.21" y2="1796.80" stroke="#000" stroke-width="1.7" />
<text x="112.51" y="1813.30" font-size="13.6" font-weight="bold" text-anchor="middle" textLength="8.60" lengthAdjust="spacingAndGlyphs" >1</text>
<line x1="134.32" y1="1792.00" x2="134.32" y2="1796.80" stroke="#000" stroke-width="1.7" />
<text x="134.62" y="1813.30" font-size="13.6" font-weight="bold" text-anchor="middle" textLength="8.60" lengthAdjust="spacingAndGlyphs" >2</text>
<line x1="156.42" y1="1792.00" x2="156.42" y2="1796.80" stroke="#000" stroke-width="1.7" />
<text x="156.72" y="1813.30" font-size="13.6" font-weight="bold" text-anchor="middle" textLength="8.60" lengthAdjust="spacingAndGlyphs" >3</text>
<line x1="178.53" y1="1792.00" x2="178.53" y2="1796.80" stroke="#000" stroke-width="1.7" />
<text x="178.83" y="1813.30" font-size="13.6" font-weight="bold" text-anchor="middle" textLength="8.60" lengthAdjust="spacingAndGlyphs" >4</text>
<line x1="200.64" y1="1792.00" x2="200.64" y2="1796.80" stroke="#000" stroke-width="1.7" />
<text x="200.94" y="1813.30" font-size="13.6" font-weight="bold" text-anchor="middle" textLength="8.60" lengthAdjust="spacingAndGlyphs" >5</text>
<line x1="222.75" y1="1792.00" x2="222.75" y2="1796.80" stroke="#000" stroke-width="1.7" />
<text x="223.05" y="1813.30" font-size="13.6" font-weight="bold" text-anchor="middle" textLength="8.60" lengthAdjust="spacingAndGlyphs" >6</text>
<line x1="244.86" y1="1792.00" x2="244.86" y2="1796.80" stroke="#000" stroke-width="1.7" />
<text x="245.16" y="1813.30" font-size="13.6" font-weight="bold" text-anchor="middle" textLength="8.60" lengthAdjust="spacingAndGlyphs" >7</text>
<line x1="266.96" y1="1792.00" x2="266.96" y2="1796.80" stroke="#000" stroke-width="1.7" />
<text x="267.26" y="1813.30" font-size="13.6" font-weight="bold" text-anchor="middle" textLength="8.60" lengthAdjust="spacingAndGlyphs" >8</text>
<line x1="289.07" y1="1792.00" x2="289.07" y2="1796.80" stroke="#000" stroke-width="1.7" />
<text x="289.37" y="1813.30" font-size="13.6" font-weight="bold" text-anchor="middle" textLength="8.60" lengthAdjust="spacingAndGlyphs" >9</text>
<line x1="311.18" y1="1792.00" x2="311.18" y2="1796.80" stroke="#000" stroke-width="1.7" />
<text x="311.48" y="1813.30" font-size="13.6" font-weight="bold" text-anchor="middle" textLength="15.10" lengthAdjust="spacingAndGlyphs" >10</text>
<line x1="333.29" y1="1792.00" x2="333.29" y2="1796.80" stroke="#000" stroke-width="1.7" />
<text x="333.59" y="1813.30" font-size="13.6" font-weight="bold" text-anchor="middle" textLength="15.10" lengthAdjust="spacingAndGlyphs" >11</text>
<line x1="355.40" y1="1792.00" x2="355.40" y2="1796.80" stroke="#000" stroke-width="1.7" />
<text x="355.70" y="1813.30" font-size="13.6" font-weight="bold" text-anchor="middle" textLength="15.10" lengthAdjust="spacingAndGlyphs" >12</text>
<line x1="377.50" y1="1792.00" x2="377.50" y2="1796.80" stroke="#000" stroke-width="1.7" />
<text x="377.80" y="1813.30" font-size="13.6" font-weight="bold" text-anchor="middle" textLength="15.10" lengthAdjust="spacingAndGlyphs" >13</text>
<line x1="399.61" y1="1792.00" x2="399.61" y2="1796.80" stroke="#000" stroke-width="1.7" />
<text x="399.91" y="1813.30" font-size="13.6" font-weight="bold" text-anchor="middle" textLength="15.10" lengthAdjust="spacingAndGlyphs" >14</text>
<line x1="421.72" y1="1792.00" x2="421.72" y2="1796.80" stroke="#000" stroke-width="1.7" />
<text x="422.02" y="1813.30" font-size="13.6" font-weight="bold" text-anchor="middle" textLength="15.10" lengthAdjust="spacingAndGlyphs" >15</text>
<line x1="443.83" y1="1792.00" x2="443.83" y2="1796.80" stroke="#000" stroke-width="1.7" />
<text x="444.13" y="1813.30" font-size="13.6" font-weight="bold" text-anchor="middle" textLength="15.10" lengthAdjust="spacingAndGlyphs" >16</text>
<line x1="465.94" y1="1792.00" x2="465.94" y2="1796.80" stroke="#000" stroke-width="1.7" />
<text x="466.24" y="1813.30" font-size="13.6" font-weight="bold" text-anchor="middle" textLength="15.10" lengthAdjust="spacingAndGlyphs" >17</text>
<line x1="488.04" y1="1792.00" x2="488.04" y2="1796.80" stroke="#000" stroke-width="1.7" />
<text x="488.34" y="1813.30" font-size="13.6" font-weight="bold" text-anchor="middle" textLength="15.10" lengthAdjust="spacingAndGlyphs" >18</text>
<line x1="510.15" y1="1792.00" x2="510.15" y2="1796.80" stroke="#000" stroke-width="1.7" />
<text x="510.45" y="1813.30" font-size="13.6" font-weight="bold" text-anchor="middle" textLength="15.10" lengthAdjust="spacingAndGlyphs" >19</text>
<line x1="532.26" y1="1792.00" x2="532.26" y2="1796.80" stroke="#000" stroke-width="1.7" />
<text x="532.56" y="1813.30" font-size="13.6" font-weight="bold" text-anchor="middle" textLength="15.10" lengthAdjust="spacingAndGlyphs" >20</text>
<line x1="554.37" y1="1792.00" x2="554.37" y2="1796.80" stroke="#000" stroke-width="1.7" />
<text x="554.67" y="1813.30" font-size="13.6" font-weight="bold" text-anchor="middle" textLength="15.10" lengthAdjust="spacingAndGlyphs" >21</text>
<line x1="576.48" y1="1792.00" x2="576.48" y2="1796.80" stroke="#000" stroke-width="1.7" />
<text x="576.78" y="1813.30" font-size="13.6" font-weight="bold" text-anchor="middle" textLength="15.10" lengthAdjust="spacingAndGlyphs" >22</text>
<line x1="598.58" y1="1792.00" x2="598.58" y2="1796.80" stroke="#000" stroke-width="1.7" />
<text x="598.88" y="1813.30" font-size="13.6" font-weight="bold" text-anchor="middle" textLength="15.10" lengthAdjust="spacingAndGlyphs" >23</text>
<line x1="620.69" y1="1792.00" x2="620.69" y2="1796.80" stroke="#000" stroke-width="1.7" />
<text x="620.99" y="1813.30" font-size="13.6" font-weight="bold" text-anchor="middle" textLength="15.10" lengthAdjust="spacingAndGlyphs" >24</text>
<line x1="642.80" y1="1792.00" x2="642.80" y2="1796.80" stroke="#000" stroke-width="1.7" />
<text x="643.10" y="1813.30" font-size="13.6" font-weight="bold" text-anchor="middle" textLength="15.10" lengthAdjust="spacingAndGlyphs" >25</text>
<rect x="502.70" y="318.00" width="131.50" height="127.60" fill="#fff" stroke="#000" stroke-width="1.9"/>
<rect x="510.80" y="328.70" width="12.00" height="11.80" fill="#000"/>
<text x="527.00" y="340.60" font-size="19.3" font-weight="normal" text-anchor="start" textLength="101.40" lengthAdjust="spacingAndGlyphs" stroke="#000" stroke-width="0.45">90%-100%</text>
<rect x="511.90" y="361.80" width="9.80" height="9.60" fill="url(#hatch2)" stroke="#000" stroke-width="2.2"/>
<text x="527.00" y="372.60" font-size="19.3" font-weight="normal" text-anchor="start" textLength="89.20" lengthAdjust="spacingAndGlyphs" stroke="#000" stroke-width="0.45">50%-89%</text>
<rect x="511.90" y="394.10" width="9.80" height="9.60" fill="#6e6e6e" stroke="#1a1a1a" stroke-width="2.2"/>
<text x="527.00" y="404.90" font-size="19.3" font-weight="normal" text-anchor="start" textLength="77.60" lengthAdjust="spacingAndGlyphs" stroke="#000" stroke-width="0.45">0%-49%</text>
<rect x="511.90" y="425.70" width="9.80" height="9.60" fill="#fff" stroke="#000" stroke-width="2.2"/>
<text x="527.00" y="436.50" font-size="19.3" font-weight="normal" text-anchor="start" textLength="35.10" lengthAdjust="spacingAndGlyphs" stroke="#000" stroke-width="0.45">N/A</text>
<line x1="82.40" y1="49.70" x2="82.40" y2="297.60" stroke="#2e2e2e" stroke-width="1.0" />
<line x1="81.90" y1="297.10" x2="633.25" y2="297.10" stroke="#2e2e2e" stroke-width="1.0" />
<line x1="78.10" y1="297.10" x2="82.40" y2="297.10" stroke="#2e2e2e" stroke-width="1.1" />
<text x="70.00" y="301.80" font-size="12.8" font-weight="bold" text-anchor="end" textLength="7.05" lengthAdjust="spacingAndGlyphs" >0</text>
<line x1="78.10" y1="247.72" x2="82.40" y2="247.72" stroke="#2e2e2e" stroke-width="1.1" />
<text x="70.00" y="252.42" font-size="12.8" font-weight="bold" text-anchor="end" textLength="14.10" lengthAdjust="spacingAndGlyphs" >20</text>
<line x1="78.10" y1="198.34" x2="82.40" y2="198.34" stroke="#2e2e2e" stroke-width="1.1" />
<text x="70.00" y="203.04" font-size="12.8" font-weight="bold" text-anchor="end" textLength="14.10" lengthAdjust="spacingAndGlyphs" >40</text>
<line x1="78.10" y1="148.96" x2="82.40" y2="148.96" stroke="#2e2e2e" stroke-width="1.1" />
<text x="70.00" y="153.66" font-size="12.8" font-weight="bold" text-anchor="end" textLength="14.10" lengthAdjust="spacingAndGlyphs" >60</text>
<line x1="78.10" y1="99.58" x2="82.40" y2="99.58" stroke="#2e2e2e" stroke-width="1.1" />
<text x="70.00" y="104.28" font-size="12.8" font-weight="bold" text-anchor="end" textLength="14.10" lengthAdjust="spacingAndGlyphs" >80</text>
<line x1="78.10" y1="50.20" x2="82.40" y2="50.20" stroke="#2e2e2e" stroke-width="1.1" />
<text x="70.00" y="54.90" font-size="12.8" font-weight="bold" text-anchor="end" textLength="21.15" lengthAdjust="spacingAndGlyphs" >100</text>
<line x1="82.40" y1="297.10" x2="82.40" y2="301.70" stroke="#2e2e2e" stroke-width="1.0" />
<line x1="104.41" y1="297.10" x2="104.41" y2="301.70" stroke="#2e2e2e" stroke-width="1.0" />
<line x1="126.43" y1="297.10" x2="126.43" y2="301.70" stroke="#2e2e2e" stroke-width="1.0" />
<line x1="148.44" y1="297.10" x2="148.44" y2="301.70" stroke="#2e2e2e" stroke-width="1.0" />
<line x1="170.46" y1="297.10" x2="170.46" y2="301.70" stroke="#2e2e2e" stroke-width="1.0" />
<line x1="192.47" y1="297.10" x2="192.47" y2="301.70" stroke="#2e2e2e" stroke-width="1.0" />
<line x1="214.48" y1="297.10" x2="214.48" y2="301.70" stroke="#2e2e2e" stroke-width="1.0" />
<line x1="236.50" y1="297.10" x2="236.50" y2="301.70" stroke="#2e2e2e" stroke-width="1.0" />
<line x1="258.51" y1="297.10" x2="258.51" y2="301.70" stroke="#2e2e2e" stroke-width="1.0" />
<line x1="280.53" y1="297.10" x2="280.53" y2="301.70" stroke="#2e2e2e" stroke-width="1.0" />
<line x1="302.54" y1="297.10" x2="302.54" y2="301.70" stroke="#2e2e2e" stroke-width="1.0" />
<line x1="324.55" y1="297.10" x2="324.55" y2="301.70" stroke="#2e2e2e" stroke-width="1.0" />
<line x1="346.57" y1="297.10" x2="346.57" y2="301.70" stroke="#2e2e2e" stroke-width="1.0" />
<line x1="368.58" y1="297.10" x2="368.58" y2="301.70" stroke="#2e2e2e" stroke-width="1.0" />
<line x1="390.60" y1="297.10" x2="390.60" y2="301.70" stroke="#2e2e2e" stroke-width="1.0" />
<line x1="412.61" y1="297.10" x2="412.61" y2="301.70" stroke="#2e2e2e" stroke-width="1.0" />
<line x1="434.62" y1="297.10" x2="434.62" y2="301.70" stroke="#2e2e2e" stroke-width="1.0" />
<line x1="456.64" y1="297.10" x2="456.64" y2="301.70" stroke="#2e2e2e" stroke-width="1.0" />
<line x1="478.65" y1="297.10" x2="478.65" y2="301.70" stroke="#2e2e2e" stroke-width="1.0" />
<line x1="500.67" y1="297.10" x2="500.67" y2="301.70" stroke="#2e2e2e" stroke-width="1.0" />
<line x1="522.68" y1="297.10" x2="522.68" y2="301.70" stroke="#2e2e2e" stroke-width="1.0" />
<line x1="544.69" y1="297.10" x2="544.69" y2="301.70" stroke="#2e2e2e" stroke-width="1.0" />
<line x1="566.71" y1="297.10" x2="566.71" y2="301.70" stroke="#2e2e2e" stroke-width="1.0" />
<line x1="588.72" y1="297.10" x2="588.72" y2="301.70" stroke="#2e2e2e" stroke-width="1.0" />
<line x1="610.74" y1="297.10" x2="610.74" y2="301.70" stroke="#2e2e2e" stroke-width="1.0" />
<line x1="632.75" y1="297.10" x2="632.75" y2="301.70" stroke="#2e2e2e" stroke-width="1.0" />
<line x1="302.50" y1="50.90" x2="346.36" y2="50.90" stroke="#000" stroke-width="1.9" />
<rect x="98.03" y="233.67" width="14.20" height="14.20" fill="#000"/>
<rect x="119.96" y="214.65" width="14.20" height="14.20" fill="#000"/>
<rect x="142.74" y="215.50" width="12.50" height="12.50" fill="#fff" stroke="#000" stroke-width="2.8"/>
<polygon points="170.92,250.38 179.42,265.98 162.42,265.98" fill="#000"/>
<rect x="185.75" y="214.65" width="14.20" height="14.20" fill="#000"/>
<rect x="207.68" y="63.80" width="14.20" height="14.20" fill="#000"/>
<rect x="229.61" y="100.83" width="14.20" height="14.20" fill="#000"/>
<rect x="251.54" y="43.80" width="14.20" height="14.20" fill="#000"/>
<rect x="273.47" y="43.80" width="14.20" height="14.20" fill="#000"/>
<rect x="295.40" y="43.80" width="14.20" height="14.20" fill="#000"/>
<rect x="318.18" y="63.66" width="12.50" height="12.50" fill="#fff" stroke="#000" stroke-width="2.8"/>
<rect x="339.26" y="43.80" width="14.20" height="14.20" fill="#000"/>
<polygon points="368.29,212.35 376.79,227.95 359.79,227.95" fill="#000"/>
<rect x="383.12" y="43.80" width="14.20" height="14.20" fill="#000"/>
<rect x="405.05" y="43.80" width="14.20" height="14.20" fill="#000"/>
<polygon points="434.08,155.57 442.58,171.17 425.58,171.17" fill="#000"/>
<rect x="449.76" y="44.65" width="12.50" height="12.50" fill="#fff" stroke="#000" stroke-width="2.8"/>
<rect x="470.84" y="43.80" width="14.20" height="14.20" fill="#000"/>
<line x1="83.10" y1="476.80" x2="83.10" y2="721.50" stroke="#2e2e2e" stroke-width="1.0" />
<line x1="82.60" y1="721.00" x2="635.20" y2="721.00" stroke="#2e2e2e" stroke-width="1.0" />
<line x1="78.80" y1="721.00" x2="83.10" y2="721.00" stroke="#2e2e2e" stroke-width="1.1" />
<text x="69.80" y="725.70" font-size="12.8" font-weight="bold" text-anchor="end" textLength="7.05" lengthAdjust="spacingAndGlyphs" >0</text>
<line x1="78.80" y1="672.26" x2="83.10" y2="672.26" stroke="#2e2e2e" stroke-width="1.1" />
<text x="69.80" y="676.96" font-size="12.8" font-weight="bold" text-anchor="end" textLength="14.10" lengthAdjust="spacingAndGlyphs" >20</text>
<line x1="78.80" y1="623.52" x2="83.10" y2="623.52" stroke="#2e2e2e" stroke-width="1.1" />
<text x="69.80" y="628.22" font-size="12.8" font-weight="bold" text-anchor="end" textLength="14.10" lengthAdjust="spacingAndGlyphs" >40</text>
<line x1="78.80" y1="574.78" x2="83.10" y2="574.78" stroke="#2e2e2e" stroke-width="1.1" />
<text x="69.80" y="579.48" font-size="12.8" font-weight="bold" text-anchor="end" textLength="14.10" lengthAdjust="spacingAndGlyphs" >60</text>
<line x1="78.80" y1="526.04" x2="83.10" y2="526.04" stroke="#2e2e2e" stroke-width="1.1" />
<text x="69.80" y="530.74" font-size="12.8" font-weight="bold" text-anchor="end" textLength="14.10" lengthAdjust="spacingAndGlyphs" >80</text>
<line x1="78.80" y1="477.30" x2="83.10" y2="477.30" stroke="#2e2e2e" stroke-width="1.1" />
<text x="69.80" y="482.00" font-size="12.8" font-weight="bold" text-anchor="end" textLength="21.15" lengthAdjust="spacingAndGlyphs" >100</text>
<line x1="83.10" y1="721.00" x2="83.10" y2="725.60" stroke="#2e2e2e" stroke-width="1.0" />
<line x1="105.16" y1="721.00" x2="105.16" y2="725.60" stroke="#2e2e2e" stroke-width="1.0" />
<line x1="127.23" y1="721.00" x2="127.23" y2="725.60" stroke="#2e2e2e" stroke-width="1.0" />
<line x1="149.29" y1="721.00" x2="149.29" y2="725.60" stroke="#2e2e2e" stroke-width="1.0" />
<line x1="171.36" y1="721.00" x2="171.36" y2="725.60" stroke="#2e2e2e" stroke-width="1.0" />
<line x1="193.42" y1="721.00" x2="193.42" y2="725.60" stroke="#2e2e2e" stroke-width="1.0" />
<line x1="215.48" y1="721.00" x2="215.48" y2="725.60" stroke="#2e2e2e" stroke-width="1.0" />
<line x1="237.55" y1="721.00" x2="237.55" y2="725.60" stroke="#2e2e2e" stroke-width="1.0" />
<line x1="259.61" y1="721.00" x2="259.61" y2="725.60" stroke="#2e2e2e" stroke-width="1.0" />
<line x1="281.68" y1="721.00" x2="281.68" y2="725.60" stroke="#2e2e2e" stroke-width="1.0" />
<line x1="303.74" y1="721.00" x2="303.74" y2="725.60" stroke="#2e2e2e" stroke-width="1.0" />
<line x1="325.80" y1="721.00" x2="325.80" y2="725.60" stroke="#2e2e2e" stroke-width="1.0" />
<line x1="347.87" y1="721.00" x2="347.87" y2="725.60" stroke="#2e2e2e" stroke-width="1.0" />
<line x1="369.93" y1="721.00" x2="369.93" y2="725.60" stroke="#2e2e2e" stroke-width="1.0" />
<line x1="392.00" y1="721.00" x2="392.00" y2="725.60" stroke="#2e2e2e" stroke-width="1.0" />
<line x1="414.06" y1="721.00" x2="414.06" y2="725.60" stroke="#2e2e2e" stroke-width="1.0" />
<line x1="436.12" y1="721.00" x2="436.12" y2="725.60" stroke="#2e2e2e" stroke-width="1.0" />
<line x1="458.19" y1="721.00" x2="458.19" y2="725.60" stroke="#2e2e2e" stroke-width="1.0" />
<line x1="480.25" y1="721.00" x2="480.25" y2="725.60" stroke="#2e2e2e" stroke-width="1.0" />
<line x1="502.32" y1="721.00" x2="502.32" y2="725.60" stroke="#2e2e2e" stroke-width="1.0" />
<line x1="524.38" y1="721.00" x2="524.38" y2="725.60" stroke="#2e2e2e" stroke-width="1.0" />
<line x1="546.44" y1="721.00" x2="546.44" y2="725.60" stroke="#2e2e2e" stroke-width="1.0" />
<line x1="568.51" y1="721.00" x2="568.51" y2="725.60" stroke="#2e2e2e" stroke-width="1.0" />
<line x1="590.57" y1="721.00" x2="590.57" y2="725.60" stroke="#2e2e2e" stroke-width="1.0" />
<line x1="612.64" y1="721.00" x2="612.64" y2="725.60" stroke="#2e2e2e" stroke-width="1.0" />
<line x1="634.70" y1="721.00" x2="634.70" y2="725.60" stroke="#2e2e2e" stroke-width="1.0" />
<line x1="282.08" y1="496.16" x2="304.14" y2="481.79" stroke="#000" stroke-width="1.9" />
<rect x="98.46" y="695.24" width="14.20" height="14.20" fill="#000"/>
<rect x="120.53" y="627.00" width="14.20" height="14.20" fill="#000"/>
<rect x="143.44" y="677.32" width="12.50" height="12.50" fill="#fff" stroke="#000" stroke-width="2.8"/>
<polygon points="171.76,712.00 180.26,727.60 163.26,727.60" fill="#000"/>
<rect x="186.72" y="661.85" width="14.20" height="14.20" fill="#000"/>
<rect x="208.78" y="661.85" width="14.20" height="14.20" fill="#000"/>
<rect x="230.85" y="489.06" width="14.20" height="14.20" fill="#000"/>
<rect x="252.91" y="470.30" width="14.20" height="14.20" fill="#000"/>
<rect x="274.98" y="489.06" width="14.20" height="14.20" fill="#000"/>
<rect x="297.04" y="474.69" width="14.20" height="14.20" fill="#000"/>
<rect x="319.95" y="491.62" width="12.50" height="12.50" fill="#fff" stroke="#000" stroke-width="2.8"/>
<polygon points="348.27,636.94 356.77,652.54 339.77,652.54" fill="#000"/>
<rect x="363.23" y="489.06" width="14.20" height="14.20" fill="#000"/>
<rect x="385.30" y="489.06" width="14.20" height="14.20" fill="#000"/>
<polygon points="414.46,674.47 422.96,690.07 405.96,690.07" fill="#000"/>
<rect x="430.27" y="491.62" width="12.50" height="12.50" fill="#fff" stroke="#000" stroke-width="2.8"/>
<rect x="451.49" y="470.30" width="14.20" height="14.20" fill="#000"/>
<line x1="84.30" y1="915.10" x2="84.30" y2="1161.90" stroke="#2e2e2e" stroke-width="1.0" />
<line x1="83.80" y1="1161.40" x2="636.90" y2="1161.40" stroke="#2e2e2e" stroke-width="1.0" />
<line x1="80.00" y1="1161.40" x2="84.30" y2="1161.40" stroke="#2e2e2e" stroke-width="1.1" />
<text x="71.00" y="1166.10" font-size="12.8" font-weight="bold" text-anchor="end" textLength="7.05" lengthAdjust="spacingAndGlyphs" >0</text>
<line x1="80.00" y1="1112.24" x2="84.30" y2="1112.24" stroke="#2e2e2e" stroke-width="1.1" />
<text x="71.00" y="1116.94" font-size="12.8" font-weight="bold" text-anchor="end" textLength="14.10" lengthAdjust="spacingAndGlyphs" >20</text>
<line x1="80.00" y1="1063.08" x2="84.30" y2="1063.08" stroke="#2e2e2e" stroke-width="1.1" />
<text x="71.00" y="1067.78" font-size="12.8" font-weight="bold" text-anchor="end" textLength="14.10" lengthAdjust="spacingAndGlyphs" >40</text>
<line x1="80.00" y1="1013.92" x2="84.30" y2="1013.92" stroke="#2e2e2e" stroke-width="1.1" />
<text x="71.00" y="1018.62" font-size="12.8" font-weight="bold" text-anchor="end" textLength="14.10" lengthAdjust="spacingAndGlyphs" >60</text>
<line x1="80.00" y1="964.76" x2="84.30" y2="964.76" stroke="#2e2e2e" stroke-width="1.1" />
<text x="71.00" y="969.46" font-size="12.8" font-weight="bold" text-anchor="end" textLength="14.10" lengthAdjust="spacingAndGlyphs" >80</text>
<line x1="80.00" y1="915.60" x2="84.30" y2="915.60" stroke="#2e2e2e" stroke-width="1.1" />
<text x="71.00" y="920.30" font-size="12.8" font-weight="bold" text-anchor="end" textLength="21.15" lengthAdjust="spacingAndGlyphs" >100</text>
<line x1="84.30" y1="1161.40" x2="84.30" y2="1166.00" stroke="#2e2e2e" stroke-width="1.0" />
<line x1="106.38" y1="1161.40" x2="106.38" y2="1166.00" stroke="#2e2e2e" stroke-width="1.0" />
<line x1="128.47" y1="1161.40" x2="128.47" y2="1166.00" stroke="#2e2e2e" stroke-width="1.0" />
<line x1="150.55" y1="1161.40" x2="150.55" y2="1166.00" stroke="#2e2e2e" stroke-width="1.0" />
<line x1="172.64" y1="1161.40" x2="172.64" y2="1166.00" stroke="#2e2e2e" stroke-width="1.0" />
<line x1="194.72" y1="1161.40" x2="194.72" y2="1166.00" stroke="#2e2e2e" stroke-width="1.0" />
<line x1="216.80" y1="1161.40" x2="216.80" y2="1166.00" stroke="#2e2e2e" stroke-width="1.0" />
<line x1="238.89" y1="1161.40" x2="238.89" y2="1166.00" stroke="#2e2e2e" stroke-width="1.0" />
<line x1="260.97" y1="1161.40" x2="260.97" y2="1166.00" stroke="#2e2e2e" stroke-width="1.0" />
<line x1="283.06" y1="1161.40" x2="283.06" y2="1166.00" stroke="#2e2e2e" stroke-width="1.0" />
<line x1="305.14" y1="1161.40" x2="305.14" y2="1166.00" stroke="#2e2e2e" stroke-width="1.0" />
<line x1="327.22" y1="1161.40" x2="327.22" y2="1166.00" stroke="#2e2e2e" stroke-width="1.0" />
<line x1="349.31" y1="1161.40" x2="349.31" y2="1166.00" stroke="#2e2e2e" stroke-width="1.0" />
<line x1="371.39" y1="1161.40" x2="371.39" y2="1166.00" stroke="#2e2e2e" stroke-width="1.0" />
<line x1="393.48" y1="1161.40" x2="393.48" y2="1166.00" stroke="#2e2e2e" stroke-width="1.0" />
<line x1="415.56" y1="1161.40" x2="415.56" y2="1166.00" stroke="#2e2e2e" stroke-width="1.0" />
<line x1="437.64" y1="1161.40" x2="437.64" y2="1166.00" stroke="#2e2e2e" stroke-width="1.0" />
<line x1="459.73" y1="1161.40" x2="459.73" y2="1166.00" stroke="#2e2e2e" stroke-width="1.0" />
<line x1="481.81" y1="1161.40" x2="481.81" y2="1166.00" stroke="#2e2e2e" stroke-width="1.0" />
<line x1="503.90" y1="1161.40" x2="503.90" y2="1166.00" stroke="#2e2e2e" stroke-width="1.0" />
<line x1="525.98" y1="1161.40" x2="525.98" y2="1166.00" stroke="#2e2e2e" stroke-width="1.0" />
<line x1="548.06" y1="1161.40" x2="548.06" y2="1166.00" stroke="#2e2e2e" stroke-width="1.0" />
<line x1="570.15" y1="1161.40" x2="570.15" y2="1166.00" stroke="#2e2e2e" stroke-width="1.0" />
<line x1="592.23" y1="1161.40" x2="592.23" y2="1166.00" stroke="#2e2e2e" stroke-width="1.0" />
<line x1="614.32" y1="1161.40" x2="614.32" y2="1166.00" stroke="#2e2e2e" stroke-width="1.0" />
<line x1="636.40" y1="1161.40" x2="636.40" y2="1166.00" stroke="#2e2e2e" stroke-width="1.0" />
<line x1="415.60" y1="930.94" x2="459.84" y2="930.94" stroke="#000" stroke-width="1.9" />
<rect x="98.82" y="1078.69" width="14.20" height="14.20" fill="#000"/>
<polygon points="128.04,1113.45 136.54,1129.05 119.54,1129.05" fill="#000"/>
<rect x="143.06" y="1097.62" width="14.20" height="14.20" fill="#000"/>
<rect x="165.18" y="1078.69" width="14.20" height="14.20" fill="#000"/>
<rect x="188.15" y="1093.80" width="12.50" height="12.50" fill="#fff" stroke="#000" stroke-width="2.8"/>
<rect x="209.42" y="1116.55" width="14.20" height="14.20" fill="#000"/>
<rect x="231.54" y="1116.55" width="14.20" height="14.20" fill="#000"/>
<rect x="253.66" y="946.45" width="14.20" height="14.20" fill="#000"/>
<rect x="275.78" y="927.53" width="14.20" height="14.20" fill="#000"/>
<rect x="297.90" y="965.38" width="14.20" height="14.20" fill="#000"/>
<rect x="320.02" y="927.53" width="14.20" height="14.20" fill="#000"/>
<rect x="342.14" y="946.45" width="14.20" height="14.20" fill="#000"/>
<rect x="364.26" y="927.53" width="14.20" height="14.20" fill="#000"/>
<rect x="386.38" y="908.60" width="14.20" height="14.20" fill="#000"/>
<rect x="408.50" y="923.84" width="14.20" height="14.20" fill="#000"/>
<polygon points="437.72,1037.74 446.22,1053.34 429.22,1053.34" fill="#000"/>
<rect x="452.74" y="923.84" width="14.20" height="14.20" fill="#000"/>
<rect x="475.71" y="950.50" width="12.50" height="12.50" fill="#fff" stroke="#000" stroke-width="2.8"/>
<rect x="496.98" y="927.53" width="14.20" height="14.20" fill="#000"/>
<polygon points="526.20,1000.13 534.70,1015.73 517.70,1015.73" fill="#000"/>
<rect x="541.22" y="908.60" width="14.20" height="14.20" fill="#000"/>
<rect x="564.19" y="929.85" width="12.50" height="12.50" fill="#fff" stroke="#000" stroke-width="2.8"/>
<rect x="585.46" y="927.53" width="14.20" height="14.20" fill="#000"/>
<line x1="86.50" y1="1370.80" x2="86.50" y2="1609.90" stroke="#2e2e2e" stroke-width="1.0" />
<line x1="86.00" y1="1609.40" x2="643.90" y2="1609.40" stroke="#2e2e2e" stroke-width="1.0" />
<line x1="82.20" y1="1609.40" x2="86.50" y2="1609.40" stroke="#2e2e2e" stroke-width="1.1" />
<text x="74.20" y="1614.10" font-size="12.8" font-weight="bold" text-anchor="end" textLength="7.05" lengthAdjust="spacingAndGlyphs" >0</text>
<line x1="82.20" y1="1561.78" x2="86.50" y2="1561.78" stroke="#2e2e2e" stroke-width="1.1" />
<text x="74.20" y="1566.48" font-size="12.8" font-weight="bold" text-anchor="end" textLength="14.10" lengthAdjust="spacingAndGlyphs" >20</text>
<line x1="82.20" y1="1514.16" x2="86.50" y2="1514.16" stroke="#2e2e2e" stroke-width="1.1" />
<text x="74.20" y="1518.86" font-size="12.8" font-weight="bold" text-anchor="end" textLength="14.10" lengthAdjust="spacingAndGlyphs" >40</text>
<line x1="82.20" y1="1466.54" x2="86.50" y2="1466.54" stroke="#2e2e2e" stroke-width="1.1" />
<text x="74.20" y="1471.24" font-size="12.8" font-weight="bold" text-anchor="end" textLength="14.10" lengthAdjust="spacingAndGlyphs" >60</text>
<line x1="82.20" y1="1418.92" x2="86.50" y2="1418.92" stroke="#2e2e2e" stroke-width="1.1" />
<text x="74.20" y="1423.62" font-size="12.8" font-weight="bold" text-anchor="end" textLength="14.10" lengthAdjust="spacingAndGlyphs" >80</text>
<line x1="82.20" y1="1371.30" x2="86.50" y2="1371.30" stroke="#2e2e2e" stroke-width="1.1" />
<text x="74.20" y="1376.00" font-size="12.8" font-weight="bold" text-anchor="end" textLength="21.15" lengthAdjust="spacingAndGlyphs" >100</text>
<line x1="86.50" y1="1609.40" x2="86.50" y2="1614.00" stroke="#2e2e2e" stroke-width="1.0" />
<line x1="108.78" y1="1609.40" x2="108.78" y2="1614.00" stroke="#2e2e2e" stroke-width="1.0" />
<line x1="131.05" y1="1609.40" x2="131.05" y2="1614.00" stroke="#2e2e2e" stroke-width="1.0" />
<line x1="153.33" y1="1609.40" x2="153.33" y2="1614.00" stroke="#2e2e2e" stroke-width="1.0" />
<line x1="175.60" y1="1609.40" x2="175.60" y2="1614.00" stroke="#2e2e2e" stroke-width="1.0" />
<line x1="197.88" y1="1609.40" x2="197.88" y2="1614.00" stroke="#2e2e2e" stroke-width="1.0" />
<line x1="220.16" y1="1609.40" x2="220.16" y2="1614.00" stroke="#2e2e2e" stroke-width="1.0" />
<line x1="242.43" y1="1609.40" x2="242.43" y2="1614.00" stroke="#2e2e2e" stroke-width="1.0" />
<line x1="264.71" y1="1609.40" x2="264.71" y2="1614.00" stroke="#2e2e2e" stroke-width="1.0" />
<line x1="286.98" y1="1609.40" x2="286.98" y2="1614.00" stroke="#2e2e2e" stroke-width="1.0" />
<line x1="309.26" y1="1609.40" x2="309.26" y2="1614.00" stroke="#2e2e2e" stroke-width="1.0" />
<line x1="331.54" y1="1609.40" x2="331.54" y2="1614.00" stroke="#2e2e2e" stroke-width="1.0" />
<line x1="353.81" y1="1609.40" x2="353.81" y2="1614.00" stroke="#2e2e2e" stroke-width="1.0" />
<line x1="376.09" y1="1609.40" x2="376.09" y2="1614.00" stroke="#2e2e2e" stroke-width="1.0" />
<line x1="398.36" y1="1609.40" x2="398.36" y2="1614.00" stroke="#2e2e2e" stroke-width="1.0" />
<line x1="420.64" y1="1609.40" x2="420.64" y2="1614.00" stroke="#2e2e2e" stroke-width="1.0" />
<line x1="442.92" y1="1609.40" x2="442.92" y2="1614.00" stroke="#2e2e2e" stroke-width="1.0" />
<line x1="465.19" y1="1609.40" x2="465.19" y2="1614.00" stroke="#2e2e2e" stroke-width="1.0" />
<line x1="487.47" y1="1609.40" x2="487.47" y2="1614.00" stroke="#2e2e2e" stroke-width="1.0" />
<line x1="509.74" y1="1609.40" x2="509.74" y2="1614.00" stroke="#2e2e2e" stroke-width="1.0" />
<line x1="532.02" y1="1609.40" x2="532.02" y2="1614.00" stroke="#2e2e2e" stroke-width="1.0" />
<line x1="554.30" y1="1609.40" x2="554.30" y2="1614.00" stroke="#2e2e2e" stroke-width="1.0" />
<line x1="576.57" y1="1609.40" x2="576.57" y2="1614.00" stroke="#2e2e2e" stroke-width="1.0" />
<line x1="598.85" y1="1609.40" x2="598.85" y2="1614.00" stroke="#2e2e2e" stroke-width="1.0" />
<line x1="621.12" y1="1609.40" x2="621.12" y2="1614.00" stroke="#2e2e2e" stroke-width="1.0" />
<line x1="643.40" y1="1609.40" x2="643.40" y2="1614.00" stroke="#2e2e2e" stroke-width="1.0" />
<line x1="376.49" y1="1397.00" x2="398.76" y2="1375.33" stroke="#000" stroke-width="1.9" />
<rect x="102.08" y="1511.33" width="14.20" height="14.20" fill="#000"/>
<polygon points="131.45,1563.83 139.95,1579.43 122.95,1579.43" fill="#000"/>
<rect x="147.48" y="1452.42" width="12.50" height="12.50" fill="#fff" stroke="#000" stroke-width="2.8"/>
<rect x="168.90" y="1493.00" width="14.20" height="14.20" fill="#000"/>
<rect x="191.18" y="1511.33" width="14.20" height="14.20" fill="#000"/>
<rect x="213.46" y="1511.33" width="14.20" height="14.20" fill="#000"/>
<rect x="235.73" y="1511.33" width="14.20" height="14.20" fill="#000"/>
<rect x="258.01" y="1493.00" width="14.20" height="14.20" fill="#000"/>
<rect x="280.28" y="1401.57" width="14.20" height="14.20" fill="#000"/>
<rect x="302.56" y="1401.57" width="14.20" height="14.20" fill="#000"/>
<rect x="324.84" y="1383.23" width="14.20" height="14.20" fill="#000"/>
<rect x="347.11" y="1364.90" width="14.20" height="14.20" fill="#000"/>
<rect x="369.39" y="1389.90" width="14.20" height="14.20" fill="#000"/>
<rect x="391.66" y="1368.23" width="14.20" height="14.20" fill="#000"/>
<polygon points="421.04,1460.02 429.54,1475.62 412.54,1475.62" fill="#000"/>
<rect x="437.07" y="1365.75" width="12.50" height="12.50" fill="#fff" stroke="#000" stroke-width="2.8"/>
<rect x="458.49" y="1383.23" width="14.20" height="14.20" fill="#000"/>
<rect x="480.77" y="1364.90" width="14.20" height="14.20" fill="#000"/>
<polygon points="510.14,1527.17 518.64,1542.77 501.64,1542.77" fill="#000"/>
<rect x="526.17" y="1402.42" width="12.50" height="12.50" fill="#fff" stroke="#000" stroke-width="2.8"/>
<rect x="547.60" y="1383.23" width="14.20" height="14.20" fill="#000"/>
<polyline points="203.55,50.00 203.60,468.90 226.30,468.90 226.30,903.80 249.20,903.80 249.20,1359.00 275.90,1359.00 277.20,1794.40" fill="none" stroke="#000" stroke-width="2.35" />
<polyline points="378.60,50.00 378.80,470.40 358.40,470.40 358.20,894.80 493.00,894.80 492.70,1356.80 452.90,1356.80 454.70,1794.40" fill="none" stroke="#000" stroke-width="2.35" />
<polyline points="291.00,50.00 291.60,465.60 270.70,465.60 270.70,901.00 403.40,901.00 403.60,1356.30 364.30,1356.30 364.80,1794.40" fill="none" stroke="#000" stroke-width="2.4" stroke-dasharray="4.8 2.0"/>
<text x="105.20" y="36.60" font-size="16.2" font-weight="bold" text-anchor="start" textLength="61.40" lengthAdjust="spacingAndGlyphs" >Baseline</text>
<text x="228.00" y="13.90" font-size="16.2" font-weight="bold" text-anchor="start" textLength="26.00" lengthAdjust="spacingAndGlyphs" >BST</text>
<text x="190.80" y="35.40" font-size="16.2" font-weight="bold" text-anchor="start" textLength="99.80" lengthAdjust="spacingAndGlyphs" >Experimenter</text>
<text x="300.60" y="13.80" font-size="16.2" font-weight="bold" text-anchor="start" textLength="67.00" lengthAdjust="spacingAndGlyphs" >BST With</text>
<text x="315.40" y="35.30" font-size="16.2" font-weight="bold" text-anchor="start" textLength="37.40" lengthAdjust="spacingAndGlyphs" >Child</text>
<text x="408.20" y="34.50" font-size="16.2" font-weight="bold" text-anchor="start" textLength="98.40" lengthAdjust="spacingAndGlyphs" >Maintenance</text>
<text x="86.80" y="161.10" font-size="16.2" font-weight="bold" text-anchor="start" textLength="100.20" lengthAdjust="spacingAndGlyphs" >Handwashing</text>
<text x="86.80" y="183.60" font-size="16.2" font-weight="bold" text-anchor="start" textLength="110.80" lengthAdjust="spacingAndGlyphs" >(Primary ADLS)</text>
<text x="436.00" y="101.30" font-size="16.2" font-weight="bold" text-anchor="start" textLength="45.40" lengthAdjust="spacingAndGlyphs" >Home</text>
<text x="403.80" y="123.70" font-size="16.2" font-weight="bold" text-anchor="start" textLength="109.80" lengthAdjust="spacingAndGlyphs" >Generalization</text>
<text x="446.60" y="213.40" font-size="16.2" font-weight="bold" text-anchor="start" textLength="47.10" lengthAdjust="spacingAndGlyphs" >Jacket</text>
<text x="389.20" y="235.50" font-size="16.2" font-weight="bold" text-anchor="start" textLength="162.50" lengthAdjust="spacingAndGlyphs" >(ADLS Generalization)</text>
<line x1="125.60" y1="190.00" x2="125.60" y2="205.00" stroke="#000" stroke-width="2.0" />
<polygon points="125.60,211.00 121.00,204.00 130.20,204.00" fill="#000"/>
<line x1="455.60" y1="83.30" x2="455.60" y2="67.30" stroke="#000" stroke-width="2.0" />
<polygon points="455.60,61.30 460.20,68.30 451.00,68.30" fill="#000"/>
<line x1="454.50" y1="199.30" x2="444.69" y2="184.95" stroke="#000" stroke-width="2.0" />
<polygon points="441.30,180.00 449.05,183.18 441.45,188.37" fill="#000"/>
<text x="580.30" y="278.20" font-size="19.6" font-weight="bold" text-anchor="start" textLength="51.70" lengthAdjust="spacingAndGlyphs" stroke="#000" stroke-width="0.35">Emily</text>
<line x1="579.10" y1="282.10" x2="632.00" y2="282.10" stroke="#000" stroke-width="2.5" />
<text x="584.70" y="699.80" font-size="19.6" font-weight="bold" text-anchor="start" textLength="42.30" lengthAdjust="spacingAndGlyphs" stroke="#000" stroke-width="0.35">Fran</text>
<line x1="584.10" y1="703.20" x2="632.00" y2="703.20" stroke="#000" stroke-width="2.5" />
<text x="588.60" y="1142.60" font-size="19.6" font-weight="bold" text-anchor="start" textLength="46.60" lengthAdjust="spacingAndGlyphs" stroke="#000" stroke-width="0.35">Gary</text>
<line x1="588.40" y1="1146.50" x2="635.20" y2="1146.50" stroke="#000" stroke-width="2.5" />
<text x="588.20" y="1590.20" font-size="19.6" font-weight="bold" text-anchor="start" textLength="55.80" lengthAdjust="spacingAndGlyphs" stroke="#000" stroke-width="0.35">Helen</text>
<line x1="587.40" y1="1594.10" x2="644.50" y2="1594.10" stroke="#000" stroke-width="2.5" />
<text x="15.70" y="246.30" font-size="17.4" font-weight="bold" text-anchor="start" textLength="164.00" lengthAdjust="spacingAndGlyphs" transform="rotate(-90 15.70 246.30)" >% of ADLS Procedures</text>
<text x="37.20" y="252.20" font-size="17.0" font-weight="bold" text-anchor="start" textLength="175.10" lengthAdjust="spacingAndGlyphs" transform="rotate(-90 37.20 252.20)" >Implemented Correctly</text>
<text x="14.50" y="683.80" font-size="17.4" font-weight="bold" text-anchor="start" textLength="163.90" lengthAdjust="spacingAndGlyphs" transform="rotate(-90 14.50 683.80)" >% of ADLS Procedures</text>
<text x="36.70" y="689.00" font-size="17.0" font-weight="bold" text-anchor="start" textLength="174.30" lengthAdjust="spacingAndGlyphs" transform="rotate(-90 36.70 689.00)" >Implemented Correctly</text>
<text x="14.70" y="1115.10" font-size="17.4" font-weight="bold" text-anchor="start" textLength="166.40" lengthAdjust="spacingAndGlyphs" transform="rotate(-90 14.70 1115.10)" >% of ADLS Procedures</text>
<text x="36.10" y="1119.10" font-size="17.0" font-weight="bold" text-anchor="start" textLength="174.70" lengthAdjust="spacingAndGlyphs" transform="rotate(-90 36.10 1119.10)" >Implemented Correctly</text>
<text x="14.70" y="1568.50" font-size="17.4" font-weight="bold" text-anchor="start" textLength="165.80" lengthAdjust="spacingAndGlyphs" transform="rotate(-90 14.70 1568.50)" >% of ADLS Procedures</text>
<text x="36.10" y="1572.80" font-size="17.0" font-weight="bold" text-anchor="start" textLength="175.00" lengthAdjust="spacingAndGlyphs" transform="rotate(-90 36.10 1572.80)" >Implemented Correctly</text>
<text x="14.20" y="464.90" font-size="16.6" font-weight="bold" text-anchor="start" textLength="170.20" lengthAdjust="spacingAndGlyphs" transform="rotate(-90 14.20 464.90)" >Caregiver Accuracy per</text>
<text x="36.20" y="441.60" font-size="16.0" font-weight="bold" text-anchor="start" textLength="122.40" lengthAdjust="spacingAndGlyphs" transform="rotate(-90 36.20 441.60)" >Component Skill</text>
<text x="14.10" y="899.30" font-size="16.6" font-weight="bold" text-anchor="start" textLength="169.70" lengthAdjust="spacingAndGlyphs" transform="rotate(-90 14.10 899.30)" >Caregiver Accuracy per</text>
<text x="36.20" y="876.60" font-size="16.0" font-weight="bold" text-anchor="start" textLength="121.90" lengthAdjust="spacingAndGlyphs" transform="rotate(-90 36.20 876.60)" >Component Skill</text>
<text x="14.60" y="1346.20" font-size="16.6" font-weight="bold" text-anchor="start" textLength="170.30" lengthAdjust="spacingAndGlyphs" transform="rotate(-90 14.60 1346.20)" >Caregiver Accuracy per</text>
<text x="36.80" y="1323.50" font-size="16.0" font-weight="bold" text-anchor="start" textLength="122.50" lengthAdjust="spacingAndGlyphs" transform="rotate(-90 36.80 1323.50)" >Component Skill</text>
<text x="14.60" y="1806.60" font-size="16.6" font-weight="bold" text-anchor="start" textLength="170.90" lengthAdjust="spacingAndGlyphs" transform="rotate(-90 14.60 1806.60)" >Caregiver Accuracy per</text>
<text x="36.80" y="1782.10" font-size="16.0" font-weight="bold" text-anchor="start" textLength="121.30" lengthAdjust="spacingAndGlyphs" transform="rotate(-90 36.80 1782.10)" >Component Skill</text>
<text x="329.60" y="1838.40" font-size="20.4" font-weight="normal" text-anchor="start" textLength="72.80" lengthAdjust="spacingAndGlyphs" stroke="#000" stroke-width="0.4">Session</text>
</g>
</svg></body></html>
